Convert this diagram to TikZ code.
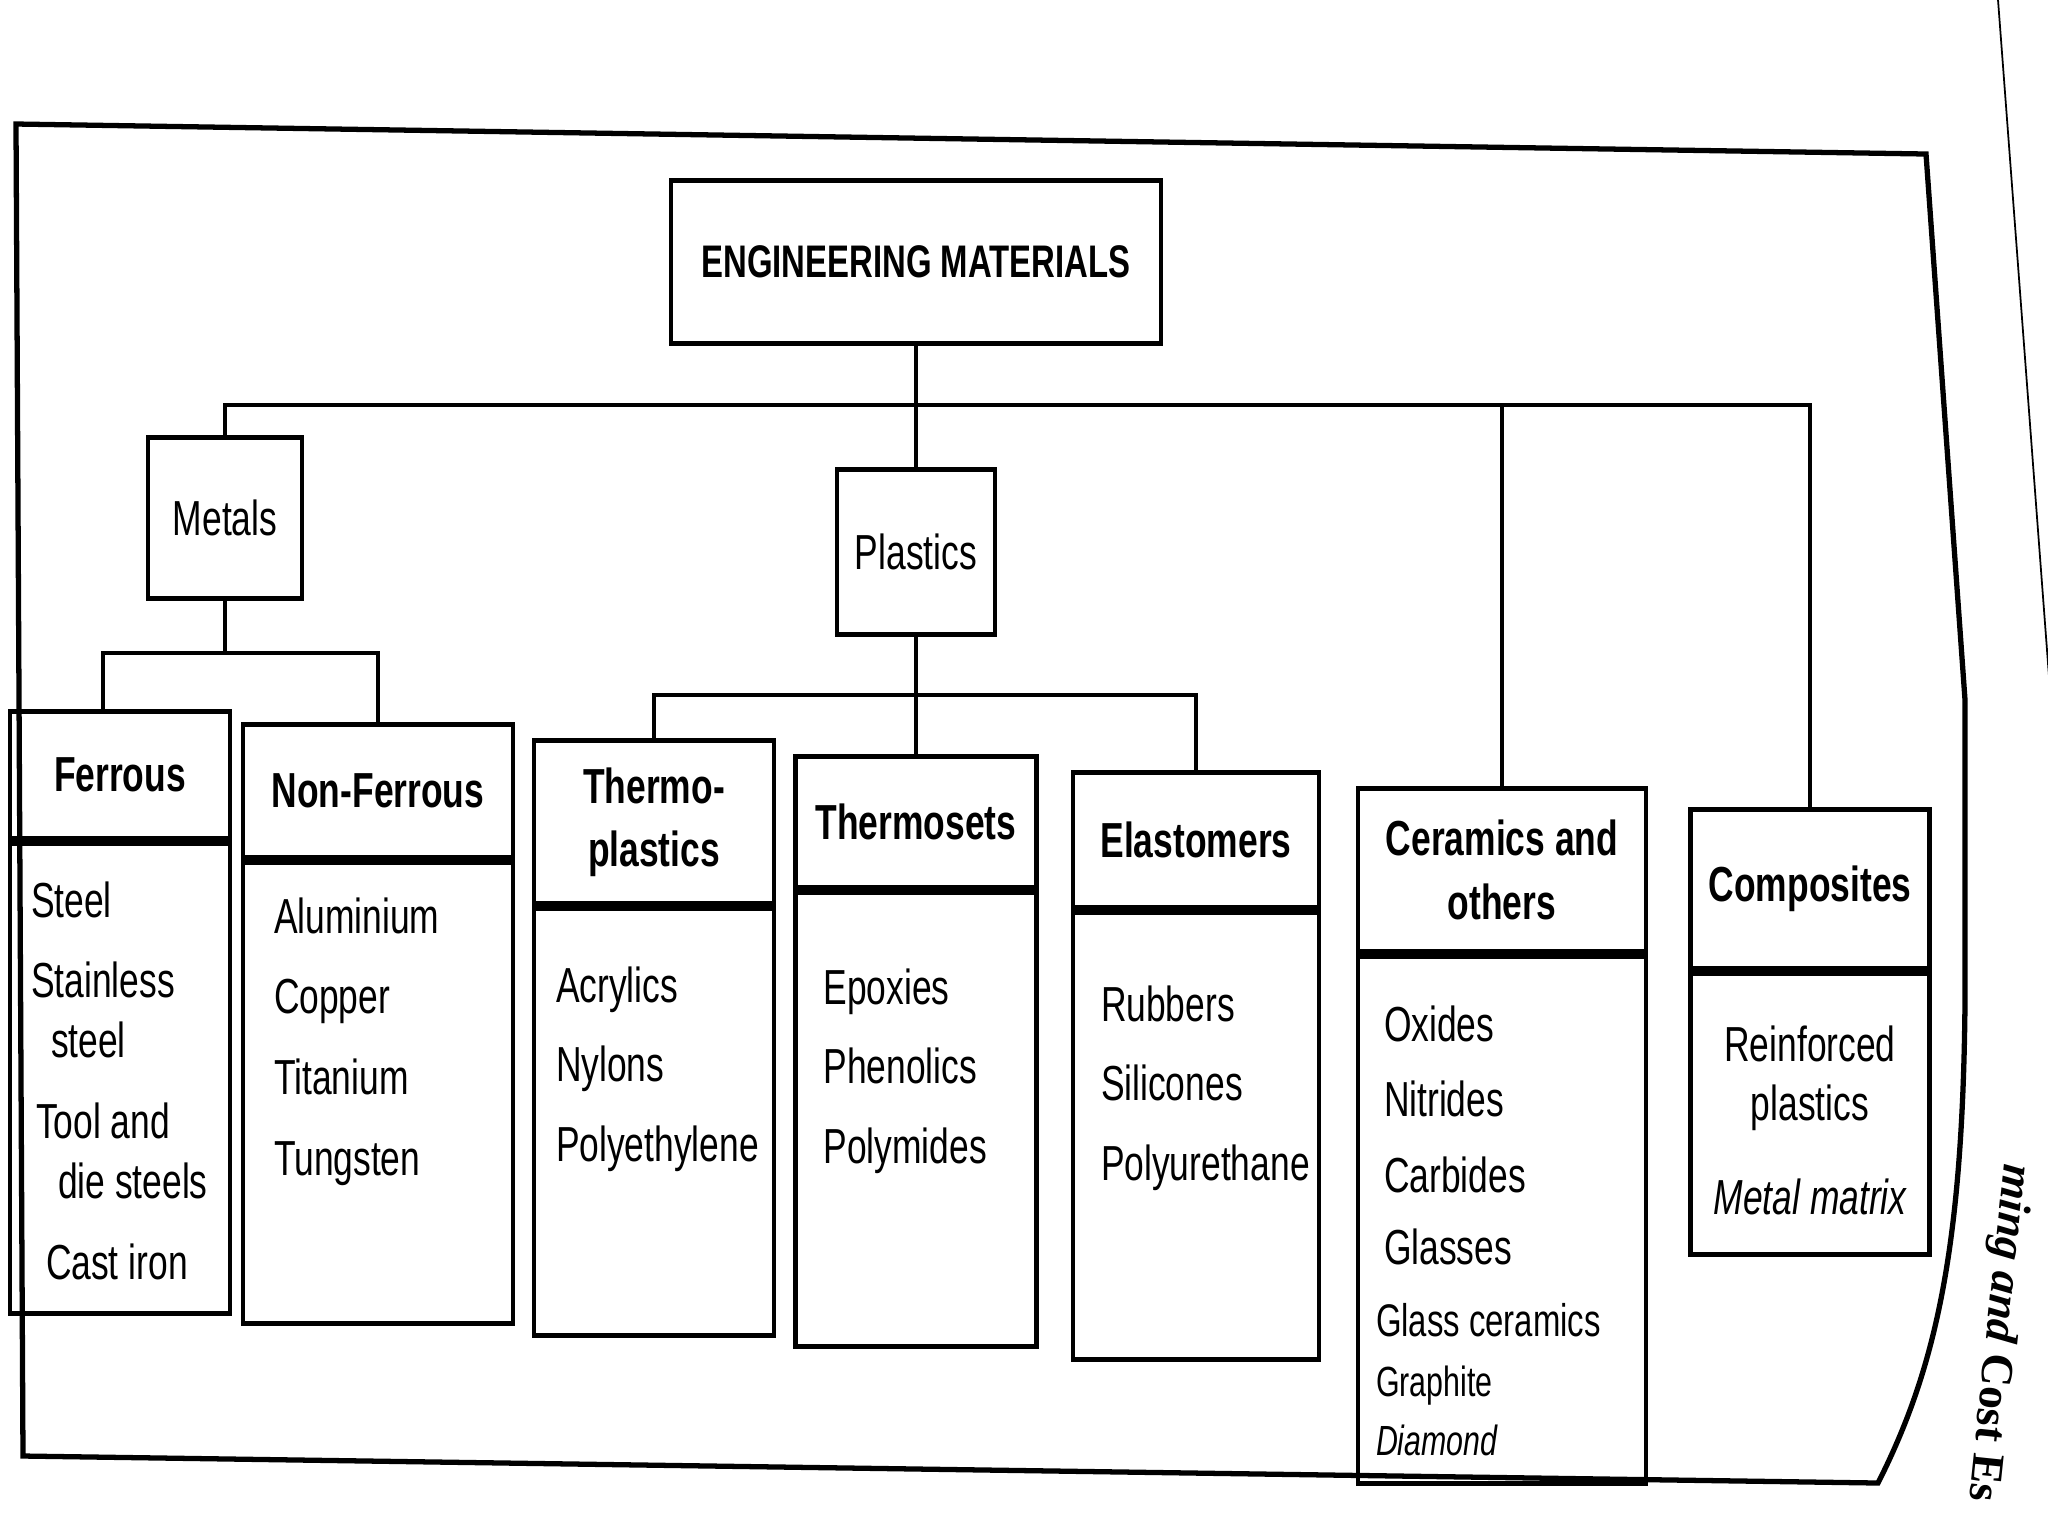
\documentclass[tikz,border=0pt]{standalone}
\usepackage{fontspec}
\setmainfont{Liberation Sans}[FakeStretch=0.72]
\newfontfamily\pagefont{Liberation Serif}
\usetikzlibrary{positioning}
\tikzset{
  frame/.style={line width=1.5pt},
  edge/.style={line width=0.5pt},
  box/.style={draw,line width=1.4pt,inner sep=0pt,align=center},
  root/.style={box,font=\bfseries\fontsize{13}{16}\selectfont},
  group/.style={box,font=\fontsize{14}{17}\selectfont},
  head/.style={box,anchor=north,font=\bfseries\fontsize{14}{18}\selectfont},
  list/.style={box,anchor=north,font=\fontsize{14}{17}\selectfont},
  link/.style={line width=1.1pt},
}

\begin{document}
\begin{tikzpicture}[x=0.1mm,y=-0.1mm]
  \useasboundingbox (0,0) rectangle (2048,1536);
  % page edge and outer frame
  \draw[edge] (1998,0) -- (2050,690);
  \node[rotate=-96,anchor=west,inner sep=1pt,font=\pagefont\bfseries\fontsize{13}{15}\selectfont] (runninghead) at (2016,1160) {\itshape ming and \upshape Cost Es};
  \draw[frame] (16,124) -- (1926,154) -- (1965,700) -- (1965,1000)
    .. controls (1963,1250) and (1935,1370) .. (1878,1483) -- (23,1456) -- cycle;

  % top of the tree
  \node[root,minimum width=49mm,minimum height=16.3mm] (eng) at (916,262) {ENGINEERING MATERIALS};
  \node[group,minimum width=15.4mm,minimum height=16.1mm] (metals) at (225,518) {Metals};
  \node[group,minimum width=15.8mm,minimum height=16.5mm] (plastics) at (916,552) {Plastics};

  % metals
  \node[head,minimum width=22mm,minimum height=12.7mm] (ferrous) at (120,709) {Ferrous};
  \node[list,minimum width=22mm,inner xsep=2.1mm,below=0pt of ferrous] (ferrouslist)
    {\parbox[t][47mm][t]{17.8mm}{\raggedright\vspace*{3.8mm}Steel\\[6pt]Stainless\\\hspace*{2mm}steel\\[6pt]\hspace*{0.5mm}Tool and\\\hspace*{2.7mm}die steels\\[6pt]\hspace*{1.5mm}Cast iron}};
  \node[head,minimum width=27mm,minimum height=13.3mm] (nonferrous) at (378,722) {Non-Ferrous};
  \node[list,minimum width=27mm,inner xsep=3.1mm,below=0pt of nonferrous] (nonferrouslist)
    {\parbox[t][46.1mm][t]{20.8mm}{\raggedright\vspace*{3.5mm}Aluminium\\[6pt]Copper\\[6pt]Titanium\\[6pt]Tungsten}};

  % plastics
  \node[head,minimum width=24mm,minimum height=16.3mm] (thermoplastics) at (654,738) {Thermo-\\plastics};
  \node[list,minimum width=24mm,inner xsep=2.2mm,below=0pt of thermoplastics] (thermoplasticslist)
    {\parbox[t][42.7mm][t]{19.6mm}{\raggedright\vspace*{5.8mm}Acrylics\\[5.7pt]Nylons\\[5.7pt]Polyethylene}};
  \node[head,minimum width=24.1mm,minimum height=13.1mm] (thermosets) at (916,754) {Thermosets};
  \node[list,minimum width=24.1mm,inner xsep=2.8mm,below=0pt of thermosets] (thermosetslist)
    {\parbox[t][45.4mm][t]{18.5mm}{\raggedright\vspace*{7.6mm}Epoxies\\[5.7pt]Phenolics\\[5.7pt]Polymides}};
  \node[head,minimum width=24.6mm,minimum height=13.5mm] (elastomers) at (1196,770) {Elastomers};
  \node[list,minimum width=24.6mm,inner xsep=2.8mm,below=0pt of elastomers] (elastomerslist)
    {\parbox[t][44.7mm][t]{19mm}{\raggedright\vspace*{7.3mm}Rubbers\\[5.7pt]Silicones\\[5.7pt]Polyurethane}};

  % ceramics and composites
  \node[head,minimum width=28.8mm,minimum height=16.3mm] (ceramics) at (1502,786) {Ceramics and\\others};
  \node[list,minimum width=28.8mm,inner xsep=1.8mm,below=0pt of ceramics] (ceramicslist)
    {\parbox[t][52.7mm][t]{25.2mm}{\raggedright\vspace*{4.9mm}\hspace*{0.8mm}Oxides\\[4.5pt]\hspace*{0.8mm}Nitrides\\[4.5pt]\hspace*{0.8mm}Carbides\\[3.5pt]\hspace*{0.8mm}Glasses\\[3.5pt]{\fontsize{13}{17}\selectfont Glass~ceramics}\\{\fontsize{12}{17}\selectfont Graphite}\\{\fontsize{12}{17}\selectfont\itshape Diamond}}};
  \node[head,minimum width=23.9mm,minimum height=15.9mm] (composites) at (1810,807) {Composites};
  \node[list,minimum width=23.9mm,inner xsep=1.5mm,below=0pt of composites] (compositeslist)
    {\parbox[t][28.1mm][t]{20.9mm}{\centering\vspace*{5.2mm}Reinforced\\plastics\\[9.6pt]{\itshape Metal matrix}}};

  % connectors
  \coordinate (bus) at (0,405);
  \coordinate (mbus) at (0,653);
  \coordinate (pbus) at (0,695);
  \draw[link] (metals.north) |- (bus -| composites.north) -- (composites.north);
  \draw[link] (bus -| ceramics.north) -- (ceramics.north);
  \draw[link] (eng.south) -- (plastics.north);
  \draw[link] (metals.south) -- (metals.south |- mbus);
  \draw[link] ([xshift=-1.7mm]ferrous.north) |- (mbus -| nonferrous.north) -- (nonferrous.north);
  \draw[link] (plastics.south) -- (thermosets.north);
  \draw[link] (thermoplastics.north) |- (pbus -| elastomers.north) -- (elastomers.north);
\end{tikzpicture}
\end{document}
